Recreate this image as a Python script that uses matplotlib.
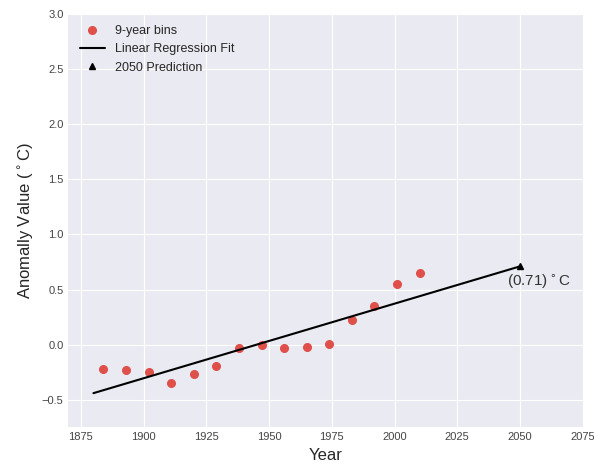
import numpy as np
import matplotlib
matplotlib.use('Agg')
import matplotlib.pyplot as plt

#9-year bin centres and mean anomaly values
bin_years=[1884,1893,1902,1911,1920,1929,1938,1947,1956,1965,1974,1983,1992,2001,2010]
bin_values=[-0.22,-0.23,-0.25,-0.35,-0.27,-0.19,-0.03,0.0,-0.03,-0.02,0.01,0.22,0.35,0.55,0.65]

#regression line end points and the 2050 prediction
fit_years=[1880,2050]
fit_values=[-0.44,0.71]
pred_year=2050
pred_value=0.71

plt.style.use('seaborn-v0_8-darkgrid')
plt.rcParams['font.family']=['Liberation Sans','DejaVu Sans']

fig,ax=plt.subplots(figsize=(5.94,4.62),dpi=100)
fig.subplots_adjust(left=0.115,right=0.981,top=0.97,bottom=0.075)

ax.plot(bin_years,bin_values,'o',color='#E0504A',markersize=5.5,label='9-year bins')
ax.plot(fit_years,fit_values,'-',color='black',linewidth=1.5,label='Linear Regression Fit')
ax.plot([pred_year],[pred_value],'^',color='black',markersize=4.5,label='2050 Prediction')
ax.annotate('(%.2f)$^\\circ$C'%pred_value,xy=(pred_year,pred_value),xytext=(-9,-14),
            textcoords='offset points',fontsize=11,color='#333333')

ax.set_xlim(1870,2075)
ax.set_ylim(-0.75,3.0)
ax.set_xlabel('Year',fontsize=12)
ax.set_ylabel('Anomally Value ($^\\circ$C)',fontsize=12)
ax.tick_params(labelsize=8,labelcolor='#444444')
ax.legend(loc='upper left',frameon=False,fontsize=9)

fig.savefig('out.png',dpi=100)
